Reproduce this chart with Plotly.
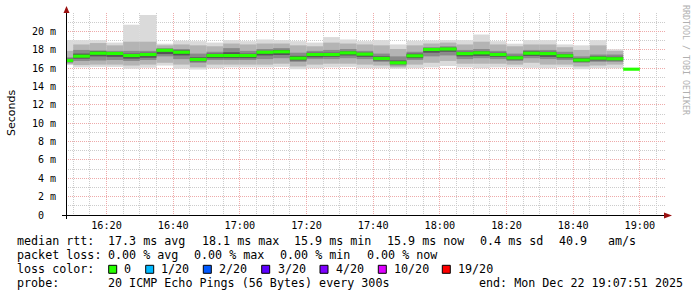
import plotly.graph_objects as go
import pandas as pd

# ---- data (ms), one entry per 5-minute step; step i ends at step_end[i] ----
step_end = pd.date_range("2025-12-22 16:10", periods=35, freq="5min")

median = [16.85, 17.32, 17.64, 17.62, 17.39, 17.50, 17.96, 17.75, 16.96, 17.39,
          17.39, 17.39, 17.75, 17.80, 17.10, 17.50, 17.50, 17.68, 17.54, 17.07,
          16.60, 17.36, 18.05, 18.10, 17.60, 17.68, 17.50, 17.14, 17.64, 17.60,
          17.36, 16.90, 17.10, 17.04, 15.90]
p_max = [19.07, 19.07, 19.07, 18.80, 20.75, 21.80, 18.68, 19.00, 18.96, 18.80,
         19.07, 18.96, 19.14, 19.07, 18.96, 18.80, 19.40, 19.14, 18.96, 19.07,
         18.60, 19.00, 19.04, 19.07, 19.07, 19.68, 18.96, 18.68, 19.07, 19.07,
         18.60, 18.50, 19.07, 18.07, None]
p_hi2 = [17.90, 18.60, 18.75, 18.50, 18.90, 18.90, 18.50, 18.60, 18.50, 18.40,
         18.70, 18.60, 18.70, 18.70, 18.50, 18.40, 18.80, 18.70, 18.60, 18.50,
         18.10, 18.50, 18.70, 18.80, 18.60, 18.90, 18.60, 18.40, 18.60, 18.60,
         18.30, 18.00, 18.50, 17.90, None]
p_hi3 = [17.20, 18.00, 17.95, 17.90, 17.90, 17.90, 18.20, 18.10, 17.60, 17.80,
         18.20, 17.90, 18.10, 18.20, 17.70, 17.90, 18.00, 18.10, 17.90, 17.60,
         17.30, 17.80, 18.30, 18.40, 18.00, 18.10, 17.90, 17.60, 18.00, 18.00,
         17.80, 17.30, 17.50, 17.50, None]
p_hi4 = [17.05, 17.60, 17.85, 17.75, 17.60, 17.70, 18.10, 17.95, 17.20, 17.60,
         17.75, 17.60, 17.90, 18.00, 17.35, 17.70, 17.70, 17.85, 17.70, 17.30,
         16.85, 17.60, 18.20, 18.25, 17.80, 17.85, 17.70, 17.35, 17.85, 17.80,
         17.55, 17.10, 17.30, 17.25, None]
p_lo4 = [16.70, 17.05, 17.30, 17.25, 17.05, 17.15, 17.55, 17.40, 16.75, 17.10,
         17.10, 17.10, 17.40, 17.45, 16.85, 17.20, 17.25, 17.40, 17.25, 16.85,
         16.45, 17.10, 17.70, 17.80, 17.30, 17.35, 17.25, 16.95, 17.35, 17.25,
         17.10, 16.70, 16.85, 16.85, None]
p_lo3 = [16.60, 16.80, 16.85, 16.90, 16.80, 16.90, 17.30, 17.00, 16.60, 16.90,
         16.90, 16.90, 17.00, 17.10, 16.70, 17.00, 17.00, 17.10, 17.00, 16.70,
         16.30, 16.90, 17.30, 17.40, 17.00, 17.10, 17.00, 16.80, 17.10, 17.00,
         16.90, 16.60, 16.70, 16.70, None]
p_lo2 = [16.45, 16.35, 16.40, 16.40, 16.30, 16.40, 16.60, 16.40, 16.10, 16.40,
         16.40, 16.40, 16.40, 16.50, 16.20, 16.40, 16.50, 16.50, 16.40, 16.30,
         16.10, 16.40, 16.60, 16.80, 16.50, 16.50, 16.50, 16.40, 16.60, 16.40,
         16.40, 16.20, 16.30, 16.40, None]
p_min = [16.35, 16.10, 16.15, 16.15, 15.95, 16.05, 16.30, 15.95, 15.86, 16.00,
         16.10, 16.10, 16.10, 16.15, 15.90, 16.00, 16.10, 16.15, 16.00, 16.00,
         15.95, 16.00, 16.10, 16.25, 16.10, 16.00, 16.10, 16.10, 16.05, 16.00,
         16.10, 15.90, 16.00, 16.00, None]

y_ticks = [0, 2, 4, 6, 8, 10, 12, 14, 16, 18, 20]
y_ticktext = ["0\u00a0\u00a0"] + [f"{v} m" for v in y_ticks[1:]]

legend_rows = [
    ["median rtt:", "17.3 ms avg", "18.1 ms max", "15.9 ms min", "15.9 ms now", "0.4 ms sd", "40.9", "am/s"],
    ["packet loss:", "0.00 % avg", "0.00 % max", "0.00 % min", "0.00 % now"],
    ["probe:", "20 ICMP Echo Pings (56 Bytes) every 300s", "end: Mon Dec 22 19:07:51 2025"],
]
loss_labels = ["0", "1/20", "2/20", "3/20", "4/20", "10/20", "19/20"]
loss_colors = ["#26ff00", "#00b8ff", "#0059ff", "#5e00ff", "#7e00ff", "#dd00ff", "#ff0000"]

# ---- geometry (pixels) ----
W, H = 697, 297
L, R, T, B = 66, 31, 13, 82
PW, PH = W - L - R, H - T - B


def px(x):
    return (x - L) / PW


def py(y):
    return (H - B - y) / PH


fig = go.Figure()

bands = [(p_min, p_max, "#dadada"), (p_lo2, p_hi2, "#b4b4b4"),
         (p_lo3, p_hi3, "#8a8a8a"), (p_lo4, p_hi4, "#555555")]
for lo, hi, col in bands:
    height = [None if (h is None or l is None) else h - l for l, h in zip(lo, hi)]
    fig.add_trace(go.Bar(x=step_end, base=lo, y=height, width=300000, offset=-300000,
                         marker=dict(color=col, line=dict(width=0)), hoverinfo="skip"))

fig.add_trace(go.Bar(x=step_end, base=[m - 0.17 for m in median], y=[0.34] * len(median),
                     width=300000, offset=-300000,
                     marker=dict(color=loss_colors[0], line=dict(width=0)), hoverinfo="skip"))

mono = "DejaVu Sans Mono"
fig.update_layout(
    width=W, height=H, margin=dict(l=L, r=R, t=T, b=B, pad=0),
    paper_bgcolor="white", plot_bgcolor="white",
    barmode="overlay", showlegend=False,
    font=dict(family=mono, size=10, color="black"),
)
fig.update_xaxes(
    type="date", range=["2025-12-22 16:07:51", "2025-12-22 19:07:51"],
    tickformat="%H:%M", tick0="2025-12-22 16:00", dtick=1200000,
    showgrid=True, gridcolor="#eeaaaa", griddash="1px,1px", gridwidth=1,
    minor=dict(tick0="2025-12-22 16:00", dtick=300000, showgrid=True,
               gridcolor="#cccccc", griddash="1px,1px", gridwidth=1),
    ticks="", showline=False, zeroline=False,
    tickfont=dict(family=mono, size=10.2, color="black"), ticklabelstandoff=3,
)
fig.update_yaxes(
    range=[0, PH / 9.17], tickmode="array", tickvals=y_ticks, ticktext=y_ticktext,
    showgrid=True, gridcolor="#eeaaaa", griddash="1px,1px", gridwidth=1,
    minor=dict(tick0=0, dtick=1, showgrid=True, gridcolor="#cccccc",
               griddash="1px,1px", gridwidth=1),
    ticks="", showline=False, zeroline=False,
    tickfont=dict(family=mono, size=10, color="black"), ticklabelstandoff=9,
)

shapes = []
# axis lines
shapes.append(dict(type="line", xref="paper", yref="paper", x0=px(62), x1=px(668),
                   y0=py(215.5), y1=py(215.5), line=dict(color="black", width=1)))
shapes.append(dict(type="line", xref="paper", yref="paper", x0=px(66.5), x1=px(66.5),
                   y0=py(219), y1=py(12), line=dict(color="black", width=1)))
# arrows
shapes.append(dict(type="path", xref="paper", yref="paper",
                   path=f"M {px(664)} {py(212.5)} L {px(672)} {py(215.5)} L {px(664)} {py(218.5)} Z",
                   fillcolor="#9b1010", line=dict(width=0)))
shapes.append(dict(type="path", xref="paper", yref="paper",
                   path=f"M {px(63.5)} {py(13)} L {px(66.5)} {py(6)} L {px(69.5)} {py(13)} Z",
                   fillcolor="#9b1010", line=dict(width=0)))

ann = []
row_y = [241.5, 255.0, 283.0]
row_x = [
    [16, 107.3, 201, 293.3, 386, 478.7, 558.3, 606.7],
    [16, 107.3, 193.3, 279.3, 365.7],
    [16, 107.3, 478.3],
]
for texts, xs, yy in zip(legend_rows, row_x, row_y):
    for t, xx in zip(texts, xs):
        ann.append(dict(text=t, x=px(xx - 1), y=py(yy), xref="paper", yref="paper",
                        xanchor="left", yanchor="middle", showarrow=False,
                        font=dict(family=mono, size=11.7, color="black")))
# loss color row
ann.append(dict(text="loss color:", x=px(15), y=py(269.3), xref="paper", yref="paper",
                xanchor="left", yanchor="middle", showarrow=False,
                font=dict(family=mono, size=11.7, color="black")))
box_x = [108.7, 145.7, 203.3, 261.7, 320, 378.3, 442.3]
lab_x = [123.3, 160, 218.3, 276.7, 335, 392.7, 456.7]
for lab, col, bx, lx in zip(loss_labels, loss_colors, box_x, lab_x):
    shapes.append(dict(type="rect", xref="paper", yref="paper",
                       x0=px(bx), x1=px(bx + 8), y0=py(265.3), y1=py(273.3),
                       fillcolor=col, line=dict(color="black", width=1)))
    ann.append(dict(text=lab, x=px(lx - 1), y=py(269.3), xref="paper", yref="paper",
                    xanchor="left", yanchor="middle", showarrow=False,
                    font=dict(family=mono, size=11.7, color="black")))
# vertical title and watermark
ann.append(dict(text="Seconds", x=px(11), y=py(113), xref="paper", yref="paper",
                xanchor="center", yanchor="middle", showarrow=False, textangle=-90,
                font=dict(family="DejaVu Sans", size=11, color="black")))
ann.append(dict(text="RRDTOOL / TOBI OETIKER", x=px(686), y=py(60), xref="paper", yref="paper",
                xanchor="center", yanchor="middle", showarrow=False, textangle=90,
                font=dict(family=mono, size=8.3, color="#b0b0b0")))

fig.update_layout(shapes=shapes, annotations=ann)
fig.write_html("out.html")
